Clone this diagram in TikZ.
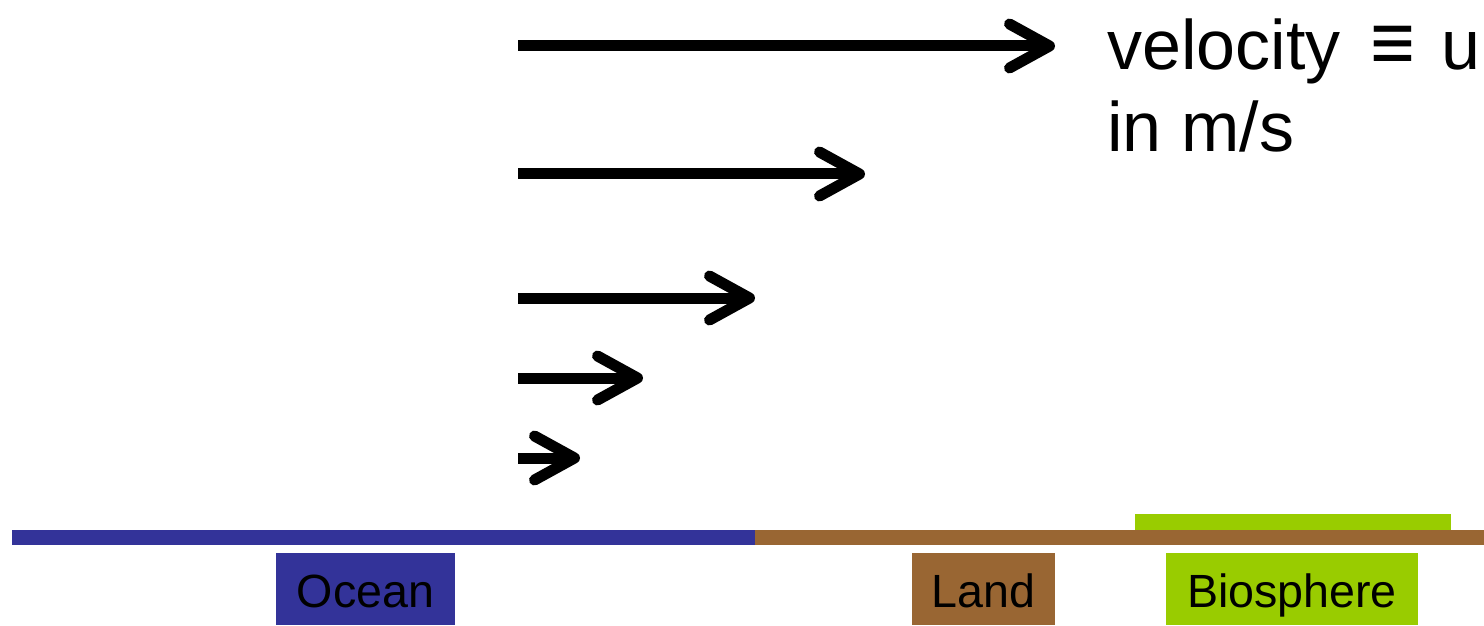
\documentclass[tikz,border=0pt]{standalone}
\usepackage{fontspec}
\usepackage{graphicx}
\setmainfont{Liberation Sans}
\usetikzlibrary{arrows.meta,positioning}
\definecolor{oceanblue}{HTML}{333399}
\definecolor{landbrown}{HTML}{996633}
\definecolor{biogreen}{HTML}{99CC00}
\tikzset{>={Straight Barb[length=20pt,width=22pt,round]}}
\tikzset{
  wind/.style={->, line width=5.5pt},
  tag/.style={minimum height=36pt, inner sep=0pt, text height=22pt, text depth=4pt,
    font=\fontsize{23.3}{28}\selectfont},
  big/.style={anchor=base west, inner sep=0pt, font=\fontsize{35}{41}\selectfont}
}

\begin{document}
\begin{tikzpicture}[x=0.5pt,y=-0.5pt]
\useasboundingbox (0,0) rectangle (1484,626);
% ground line
\fill[oceanblue] (12,530) rectangle (755,545);
\fill[landbrown] (755,530) rectangle (1484,545);
\fill[biogreen] (1135,514) rectangle (1451,530);
% labels
\node[tag, fill=oceanblue, minimum width=89.5pt] (ocean) at (365.5,589) {Ocean};
\node[tag, fill=landbrown, minimum width=71.5pt] (land) at (983.5,589) {Land};
\node[tag, fill=biogreen, minimum width=126pt] (bio) at (1292,589) {Biosphere};
% velocity arrows
\foreach \i/\y/\xe in {1/46/1055,2/174/865,3/298/755,4/378/643,5/458/580}{
  \coordinate (s\i) at (518,\y);
  \coordinate (e\i) at (\xe,\y);
  \draw[wind] (s\i) -- (e\i);
}
\node[big] (vel) at (1107,70) {velocity\hspace{15pt}\raisebox{-1pt}{\scalebox{1.1}[1.2]{≡}}\hspace{3pt} u};
\node[big] (unit) at (1107,152) {in m/s};
\end{tikzpicture}
\end{document}
